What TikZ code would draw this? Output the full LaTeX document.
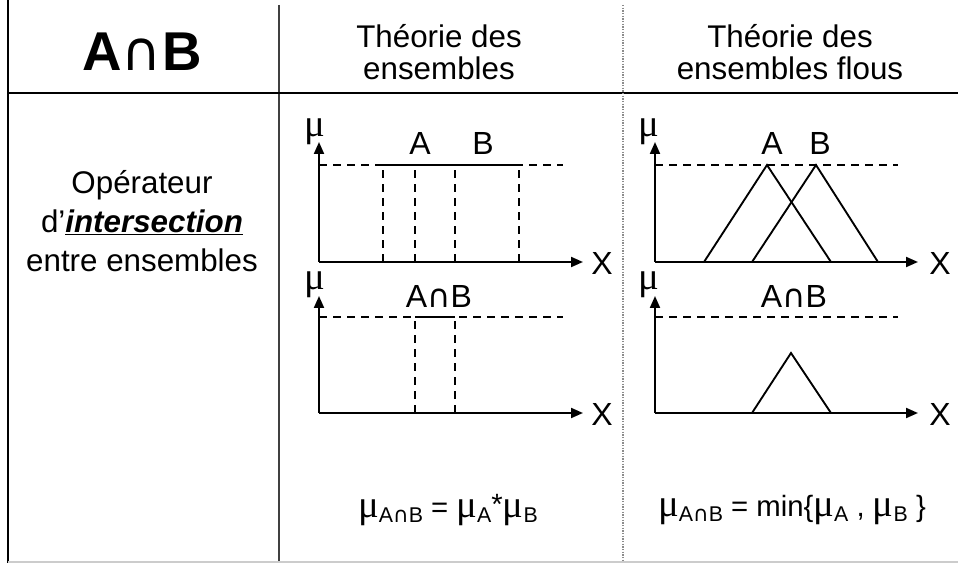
\documentclass[tikz,border=0pt]{standalone}
\usepackage{fontspec}
\setmainfont{Liberation Sans}
\newfontfamily\mufont{Liberation Serif}
\newfontfamily\capfont{DejaVu Sans}
\usetikzlibrary{arrows.meta}
\newcommand{\mug}{{\mufont\fontsize{29}{29}\selectfont μ}}
\newcommand{\inter}{{\capfont\mdseries ∩}}
\newcommand{\subtxt}[1]{\raisebox{-0.35ex}{\fontsize{16}{16}\selectfont #1}}
\tikzset{
  axis/.style  = {line width=1.5pt, -{Triangle[length=9pt, width=7.5pt]}},
  lvl/.style   = {line width=1.2pt, dash pattern=on 6pt off 4.5pt},
  mf/.style    = {line width=1.4pt},
  rule/.style  = {line width=0.9pt},
  hdr/.style   = {font=\fontsize{23.5}{24}\selectfont, align=center, inner sep=0pt},
  lbl/.style   = {font=\fontsize{24}{24}\selectfont, inner sep=0pt},
  formula/.style = {font=\fontsize{22}{22}\selectfont, inner sep=0pt},
}
\begin{document}
\begin{tikzpicture}[x=0.75pt, y=-0.75pt]
\useasboundingbox (0,0) rectangle (958,563);
% table rules
\draw[line width=2pt] (8,0) -- (8,563);
\draw[rule, black!75] (279,5) -- (279,563);
\draw[rule] (8,93) -- (958,93);
\draw[line width=0.8pt, black!45, dash pattern=on 1pt off 1pt] (623,5) -- (623,563);
\draw[line width=1.5pt, black!20] (8,562) -- (958,562);
% header row
\node[font=\fontsize{41}{42}\selectfont\bfseries, inner sep=0pt]
	(titre) at (142,52) {A\inter B};
\node[hdr] (crisp) at (439,52) {Théorie des\\ensembles};
\node[hdr] (flou) at (790,52) {Théorie des\\ensembles flous};
\node[hdr, font=\fontsize{23.5}{29}\selectfont] (oper) at (142,221)
	{Opérateur\\d’\underline{\textbf{\textit{intersection}}}\\entre ensembles};
% ensembles classiques
\coordinate (o1) at (319,262);
\draw[axis] (o1) -- (319,142);
\draw[axis] (o1) -- (583,262);
\draw[lvl] (319,165) -- (563,165);
\draw[lvl] (383,262) -- (383,165);
\draw[lvl] (415,262) -- (415,165);
\draw[lvl] (455,262) -- (455,165);
\draw[lvl] (519,262) -- (519,165);
\draw[mf] (383,165) -- (519,165);
\node[lbl] (mu1) at (315,132) {\mug};
\node[lbl] (a1) at (420,143) {A};
\node[lbl] (b1) at (483,143) {B};
\node[lbl] (x1) at (602,263) {X};

\coordinate (o2) at (319,413);
\draw[axis] (o2) -- (319,296);
\draw[axis] (o2) -- (583,413);
\draw[lvl] (319,317) -- (563,317);
\draw[lvl] (415,413) -- (415,317);
\draw[lvl] (455,413) -- (455,317);
\draw[mf] (415,317) -- (455,317);
\node[lbl] (mu2) at (315,285) {\mug};
\node[lbl] (ab2) at (439,296) {A\inter B};
\node[lbl] (x2) at (602,414) {X};
\node[formula] (eq1) at (448,510)
	{\mug\subtxt{A\inter B} = \mug\subtxt{A}\raisebox{0.2ex}{*}\mug\subtxt{B}};

% ensembles flous
\coordinate (o3) at (655,262);
\draw[axis] (o3) -- (655,142);
\draw[axis] (o3) -- (918,262);
\draw[lvl] (655,165) -- (898,165);
\draw[mf] (704,262) -- (767,165) -- (831,262);
\draw[mf] (752,262) -- (816,165) -- (878,262);
\node[lbl] (mu3) at (649,132) {\mug};
\node[lbl] (a3) at (772,143) {A};
\node[lbl] (b3) at (820,143) {B};
\node[lbl] (x3) at (940,263) {X};

\coordinate (o4) at (655,413);
\draw[axis] (o4) -- (655,296);
\draw[axis] (o4) -- (918,413);
\draw[lvl] (655,317) -- (898,317);
\draw[mf] (752,413) -- (791,353) -- (831,413);
\node[lbl] (mu4) at (649,285) {\mug};
\node[lbl] (ab4) at (794,296) {A\inter B};
\node[lbl] (x4) at (940,414) {X};
\node[formula] (eq2) at (792,510)
	{\mug\subtxt{A\inter B} = min\{\mug\subtxt{A} , \mug\subtxt{B} \}};
\end{tikzpicture}
\end{document}
